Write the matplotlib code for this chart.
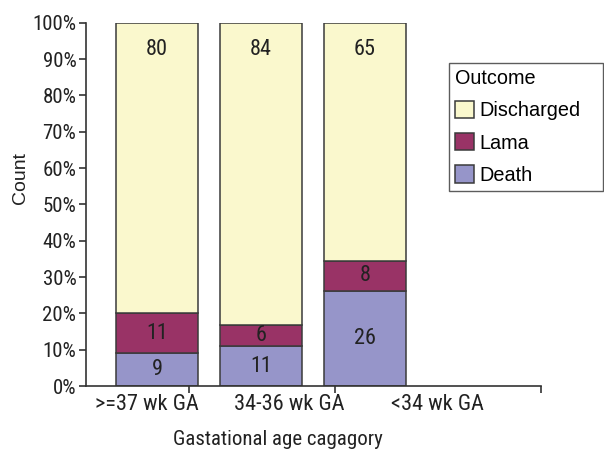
import numpy as np
import matplotlib.pyplot as plt
import matplotlib.font_manager as fm
from matplotlib.patches import Patch

categories = [">=37 wk GA", "34-36 wk GA", "<34 wk GA"]
outcomes = ["Death", "Lama", "Discharged"]
death = [9, 11, 26]
lama = [11, 6, 8]
discharged = [80, 84, 65]
colors = {"Death": "#9695c9", "Lama": "#993366", "Discharged": "#faf8cd"}

# first narrow face that is installed, else plain Liberation Sans
_installed = {f.name for f in fm.fontManager.ttflist}
_narrow = [n for n in ["Liberation Sans Narrow", "Arial Narrow", "Roboto Condensed",
                       "Archivo Narrow", "PT Sans Narrow", "Sofia Sans Semi Condensed"]
           if n in _installed]
NARROW = _narrow[:1] + ["Liberation Sans"]
REGULAR = ["Liberation Sans", "DejaVu Sans"]

counts = np.array([death, lama, discharged], dtype=float)
pct = counts / counts.sum(axis=0) * 100

fig = plt.figure(figsize=(6.04, 4.53), dpi=100)
ax = fig.add_axes([0.1424, 0.1479, 0.7533, 0.802])

x = np.arange(len(categories))
bottom = np.zeros(len(categories))
for name, row, vals in zip(outcomes, pct, counts):
    ax.bar(x, row, bottom=bottom, width=0.79, color=colors[name],
           edgecolor="#3a3a3a", linewidth=1.1)
    for xi, b, h, v in zip(x, bottom, row, vals):
        # discharged counts sit near the top of the bar, others mid-segment
        y = 92.5 if name == "Discharged" else b + h / 2
        ax.text(xi, y, f"{int(v)}", ha="center", va="center",
                fontsize=16, family=NARROW, color="#222222")
    bottom += row

ax.set_xlim(-0.683, 3.692)
ax.set_ylim(0, 100)
ax.set_yticks(np.arange(0, 101, 10))
ax.set_yticklabels([f"{v}%" for v in range(0, 101, 10)], family=NARROW, fontsize=15)
ax.set_xticks([0.308, 1.712, 3.692])
ax.set_xticklabels([])
for xc, lab in zip([-0.096, 1.27, 2.70], categories):
    ax.text(xc, -2.2, lab, ha="center", va="top", fontsize=16, family=NARROW,
            color="#222222", transform=ax.transData)

for side in ("top", "right"):
    ax.spines[side].set_visible(False)
for side in ("left", "bottom"):
    ax.spines[side].set_color("#333333")
    ax.spines[side].set_linewidth(1.2)
ax.tick_params(direction="out", length=5, width=1.2, color="#333333",
               labelcolor="#222222", pad=2)

fig.text(0.034, 0.607, "Count", rotation=90, ha="center", va="center",
         fontsize=14, family=REGULAR, color="#222222")
fig.text(0.46, 0.029, "Gastational age cagagory", ha="center", va="center",
         fontsize=15, family=NARROW, color="#222222")

handles = [Patch(facecolor=colors[n], edgecolor="#3a3a3a", linewidth=1.1)
           for n in ["Discharged", "Lama", "Death"]]
leg = fig.legend(handles, ["Discharged", "Lama", "Death"], title="Outcome",
                 loc="upper left", mode="expand", borderaxespad=0,
                 bbox_to_anchor=(449 / 604, 1 - 183 / 453, 154 / 604, 120 / 453),
                 prop={"family": REGULAR, "size": 14.3},
                 title_fontproperties={"family": REGULAR, "size": 14.3},
                 frameon=True, fancybox=False, edgecolor="#333333",
                 handlelength=0.95, handleheight=0.95, handletextpad=0.3,
                 labelspacing=0.65, borderpad=0.3, alignment="left")
leg.get_frame().set_linewidth(1.0)

fig.savefig("out.png", dpi=100)
